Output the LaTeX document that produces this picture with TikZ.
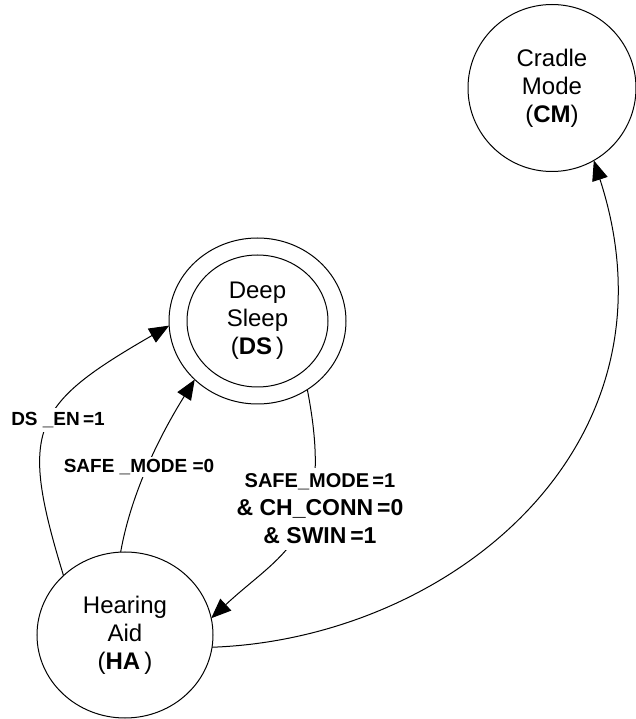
\documentclass[tikz,border=0pt]{standalone}
\usepackage{fontspec}
\setmainfont{Liberation Sans}
\usepackage{tikz}
\tikzset{state/.style={ellipse,draw,line width=0.5pt,inner sep=0pt,outer sep=0pt,
   align=center,font=\fontsize{12}{14}\selectfont},
 cond/.style={fill=white,inner sep=2pt,align=center,
   font=\bfseries\fontsize{9.5}{14}\selectfont},
 trans/.style={line width=0.5pt,-{Triangle[length=10pt,width=8pt]}},
 }
\usetikzlibrary{shapes.geometric}
\usetikzlibrary{arrows.meta}

\begin{document}
\begin{tikzpicture}[x=0.5pt,y=0.5pt]
        \useasboundingbox (0,0) rectangle (636,719);
        \node[state, minimum width=88pt, minimum height=83pt] (ha) at (125,84) {Hearing\\Aid\\(\textbf{HA}\,)};
        \node[state, minimum width=88.5pt, minimum height=83pt] (ds) at (257.5,398) {Deep\\Sleep\\(\textbf{DS}\,)};
        \node[state, minimum width=70.5pt, minimum height=66pt] (ds-core) at (ds) {};
        \node[state, minimum width=84pt, minimum height=83.5pt] (cm) at (552,631) {Cradle\\Mode\\(\textbf{CM})};

        \draw[trans] (ha.136) to[out=107, in=210, out looseness=1.45, in looseness=1.5] (ds.183);
        \draw[trans] (ha.93) to[out=80, in=238, looseness=0.85] (ds.223);
        \draw[trans] (ds.306) to[out=281, in=43, out looseness=1.55, in looseness=1] (ha.11);
        \draw[trans] (ha.-8) to[out=2, in=288, out looseness=0.98, in looseness=1.25] (cm.300);

        \node[cond] (ds-en) at (58,299) {DS\ \_EN\,=1};
        \node[cond, inner sep=1pt] (safe-off) at (139,252) {SAFE\ \_MODE\ =0};
        \node[cond, inner sep=3pt, font=\bfseries\fontsize{11.5}{14}\selectfont] (safe-on) at (320,210)
            {{\fontsize{10}{14}\selectfont SAFE\_MODE\,=1}\\\& CH\_CONN\,=0\\\& SWIN\,=1};
    \end{tikzpicture}
\end{document}
